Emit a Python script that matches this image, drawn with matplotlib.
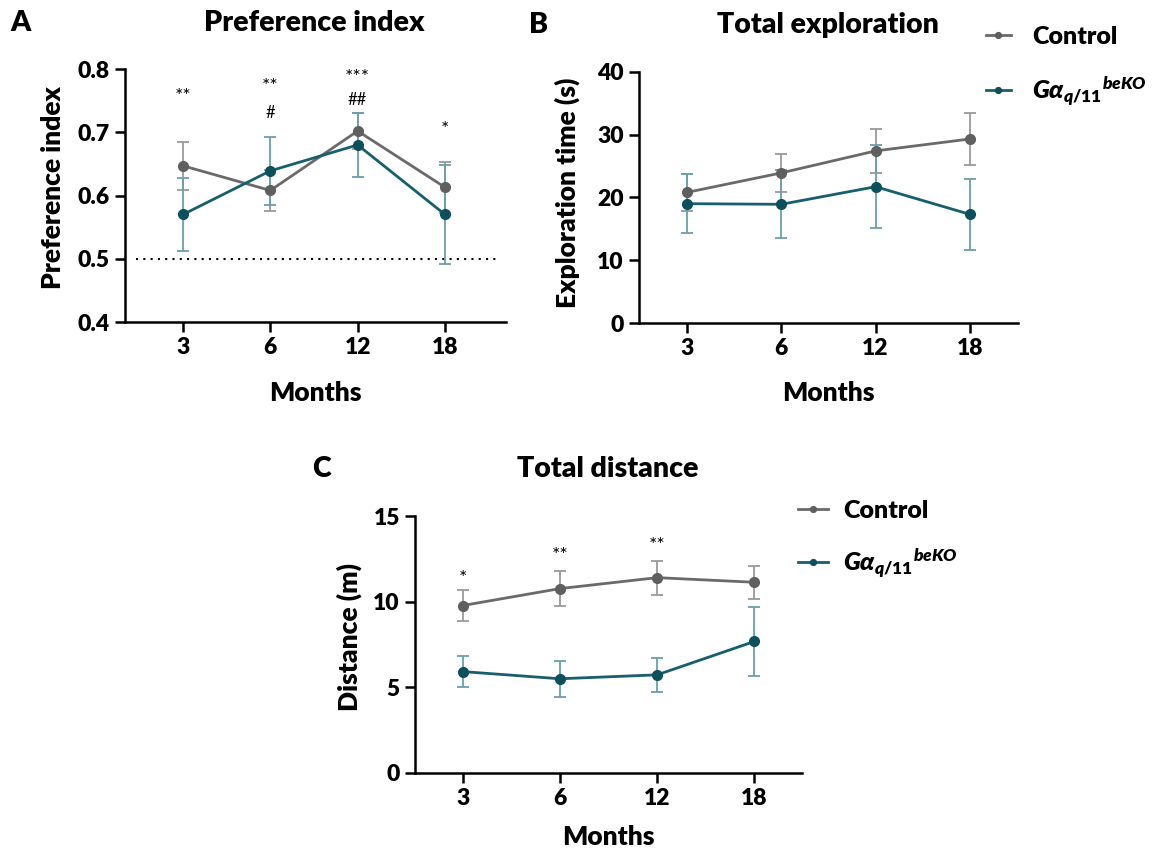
import matplotlib
matplotlib.use("Agg")
import matplotlib.pyplot as plt
from matplotlib.ticker import FormatStrFormatter

plt.rcParams['font.family'] = ['Lato', 'DejaVu Sans']
plt.rcParams['font.weight'] = 'heavy'
plt.rcParams['axes.labelweight'] = 'heavy'
plt.rcParams['mathtext.fontset'] = 'custom'
plt.rcParams['mathtext.it'] = 'Lato:italic:heavy'
plt.rcParams['mathtext.rm'] = 'Lato:heavy'
plt.rcParams['mathtext.bf'] = 'Lato:heavy'

months = ["3", "6", "12", "18"]

# A - preference index
pref_ctrl = [0.647, 0.608, 0.702, 0.613]
pref_ctrl_err = [0.038, 0.032, 0.029, 0.040]
pref_ko = [0.570, 0.639, 0.680, 0.570]
pref_ko_err = [0.057, 0.054, 0.050, 0.078]
pref_stars = ["**", "**", "***", "*"]
pref_stars_y = [0.757, 0.773, 0.786, 0.705]
pref_hash = ["", "#", "##", ""]
pref_hash_y = [0.0, 0.73, 0.751, 0.0]

# B - total exploration
expl_ctrl = [20.8, 23.9, 27.4, 29.3]
expl_ctrl_err = [3.0, 3.0, 3.5, 4.1]
expl_ko = [19.0, 18.9, 21.7, 17.3]
expl_ko_err = [4.7, 5.4, 6.6, 5.7]

# C - total distance
dist_ctrl = [9.77, 10.76, 11.40, 11.13]
dist_ctrl_err = [0.90, 1.00, 1.00, 0.95]
dist_ko = [5.91, 5.49, 5.72, 7.67]
dist_ko_err = [0.90, 1.05, 1.00, 2.00]
dist_stars = ["*", "**", "**", ""]
dist_stars_y = [11.35, 12.7, 13.3, 0]

GREY = "#6a6a6a"
GREY_MK = "#5f5f5f"
GREY_ERR = "#9a9a9a"
TEAL = "#175f6d"
TEAL_MK = "#0e4f5c"
TEAL_ERR = "#6a9fac"
KO_LABEL = r"$G\alpha_{q/11}{}^{beKO}$"

TICK_FS = 16.5
LABEL_FS = 19
TITLE_FS = 20.5
STAR_FS = 14


def style_axes(ax):
    for s in ["top", "right"]:
        ax.spines[s].set_visible(False)
    for s in ["left", "bottom"]:
        ax.spines[s].set_linewidth(1.8)
    ax.tick_params(direction="out", length=7, width=1.8, labelsize=TICK_FS,
                   pad=4)
    for lab in ax.get_xticklabels() + ax.get_yticklabels():
        lab.set_fontweight("heavy")
    ax.xaxis.label.set_va("center")
    ax.yaxis.label.set_va("center")
    ax.yaxis.label.set_ha("center")


def draw_series(ax, ctrl, ctrl_err, ko, ko_err):
    x = range(len(months))
    ax.errorbar(x, ctrl, yerr=ctrl_err, fmt="none", ecolor=GREY_ERR,
                elinewidth=1.3, capsize=4.5, capthick=1.3, zorder=2)
    ax.errorbar(x, ko, yerr=ko_err, fmt="none", ecolor=TEAL_ERR,
                elinewidth=1.3, capsize=4.5, capthick=1.3, zorder=2)
    h1, = ax.plot(x, ctrl, color=GREY, lw=2.0, marker="o", ms=7,
                  mfc=GREY_MK, mec=GREY_MK, zorder=3, label="Control")
    h2, = ax.plot(x, ko, color=TEAL, lw=2.0, marker="o", ms=7,
                  mfc=TEAL_MK, mec=TEAL_MK, zorder=3, label=KO_LABEL)
    ax.set_xticks(list(x))
    ax.set_xticklabels(months)
    return h1, h2


fig = plt.figure(figsize=(11.61, 8.51), dpi=100)

# panel A
axA = fig.add_axes([0.1077, 0.6216, 0.3282, 0.2973])
draw_series(axA, pref_ctrl, pref_ctrl_err, pref_ko, pref_ko_err)
axA.axhline(0.5, xmin=0.03, xmax=0.98, color="black", lw=1.5,
            linestyle=(0, (1, 2.5)), zorder=1)
axA.set_xlim(-0.664, 3.70)
axA.set_ylim(0.4, 0.8)
axA.set_yticks([0.4, 0.5, 0.6, 0.7, 0.8])
axA.yaxis.set_major_formatter(FormatStrFormatter("%.1f"))
for i in range(len(months)):
    axA.text(i, pref_stars_y[i], pref_stars[i], ha="center", va="center",
             fontsize=STAR_FS, fontweight="normal")
    if pref_hash[i]:
        axA.text(i, pref_hash_y[i], pref_hash[i], ha="center", va="center",
                 fontsize=12, fontweight="normal")
axA.set_ylabel("Preference index", fontsize=LABEL_FS, fontweight="heavy")
axA.set_xlabel("Months", fontsize=LABEL_FS, fontweight="heavy")
style_axes(axA)
axA.yaxis.set_label_coords(-0.19, 0.53)
axA.xaxis.set_label_coords(0.5, -0.28)

# panel B
axB = fig.add_axes([0.5504, 0.6204, 0.3264, 0.2953])
hB = draw_series(axB, expl_ctrl, expl_ctrl_err, expl_ko, expl_ko_err)
axB.set_xlim(-0.51, 3.51)
axB.set_ylim(0, 40)
axB.set_yticks([0, 10, 20, 30, 40])
axB.set_ylabel("Exploration time (s)", fontsize=LABEL_FS, fontweight="heavy")
axB.set_xlabel("Months", fontsize=LABEL_FS, fontweight="heavy")
style_axes(axB)
axB.yaxis.set_label_coords(-0.19, 0.52)
axB.xaxis.set_label_coords(0.5, -0.28)
axB.legend(handles=hB, loc="upper left", bbox_to_anchor=(0.915, 1.182),
           frameon=False, fontsize=18, borderpad=0, borderaxespad=0,
           handlelength=1.0, handletextpad=0.85, labelspacing=1.05,
           markerscale=0.6)

# panel C
axC = fig.add_axes([0.3575, 0.0920, 0.3333, 0.3016])
hC = draw_series(axC, dist_ctrl, dist_ctrl_err, dist_ko, dist_ko_err)
axC.set_xlim(-0.49, 3.49)
axC.set_ylim(0, 15)
axC.set_yticks([0, 5, 10, 15])
for i in range(len(months)):
    if dist_stars[i]:
        axC.text(i, dist_stars_y[i], dist_stars[i], ha="center", va="center",
                 fontsize=STAR_FS, fontweight="normal")
axC.set_ylabel("Distance (m)", fontsize=LABEL_FS, fontweight="heavy")
axC.set_xlabel("Months", fontsize=LABEL_FS, fontweight="heavy")
style_axes(axC)
axC.yaxis.set_label_coords(-0.17, 0.53)
axC.xaxis.set_label_coords(0.5, -0.25)
axC.legend(handles=hC, loc="upper left", bbox_to_anchor=(0.99, 1.062),
           frameon=False, fontsize=18, borderpad=0, borderaxespad=0,
           handlelength=1.2, handletextpad=0.6, labelspacing=0.98,
           markerscale=0.6)

# titles and panel letters
fig.text(314 / 1161, 1 - 23 / 851, "Preference index", ha="center",
         va="center", fontsize=TITLE_FS)
fig.text(21 / 1161, 1 - 23 / 851, "A", ha="center", va="center",
         fontsize=TITLE_FS)
fig.text(828 / 1161, 1 - 25 / 851, "Total exploration", ha="center",
         va="center", fontsize=TITLE_FS)
fig.text(539 / 1161, 1 - 25 / 851, "B", ha="center", va="center",
         fontsize=TITLE_FS)
fig.text(608 / 1161, 1 - 469 / 851, "Total distance", ha="center",
         va="center", fontsize=TITLE_FS)
fig.text(321 / 1161, 1 - 469 / 851, "C", ha="center", va="center",
         fontsize=TITLE_FS)

fig.savefig("out.png", dpi=100, facecolor="white")
plt.close(fig)
